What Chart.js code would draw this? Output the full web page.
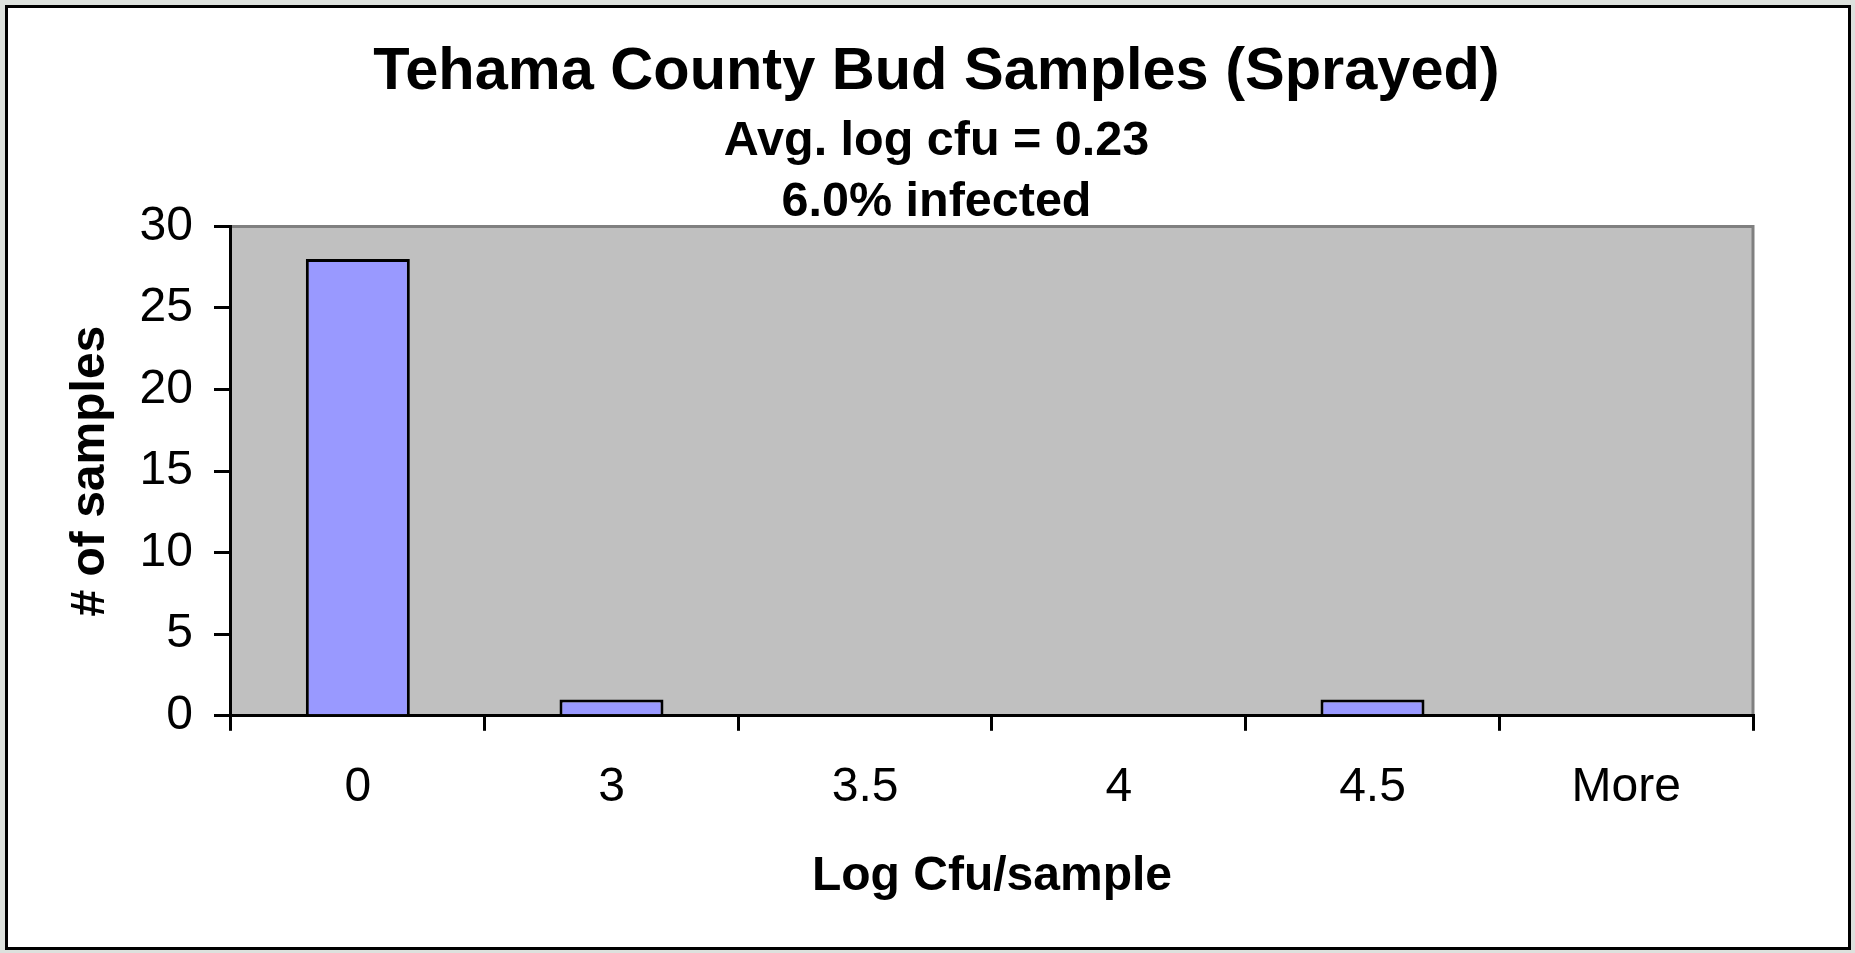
<!DOCTYPE html>
<html>
<head>
<meta charset="utf-8">
<title>Tehama County Bud Samples (Sprayed)</title>
<script src="https://cdn.jsdelivr.net/npm/chart.js@4"></script>
<style>
    html, body { margin: 0; padding: 0; background: #ffffff; }
    #chart { display: block; }
</style>
</head>
<body>
<canvas id="chart" width="1855" height="953"></canvas>
<script>
const categories = ['0', '3', '3.5', '4', '4.5', 'More'];
const sampleCounts = [28, 1, 0, 0, 1, 0];
const yTicks = [0, 5, 10, 15, 20, 25, 30];

const chartTitle = 'Tehama County Bud Samples (Sprayed)';
const subtitleLines = ['Avg. log cfu = 0.23', '6.0% infected'];

const FONT = "'Liberation Sans', Arial, sans-serif";

// grey plot area + the outer frame, drawn like the old spreadsheet chart
const framePlugin = {
    id: 'frame',
    afterLayout(chart) {
        // titles sit centred on the outer frame, not on the plot box
        chart.boxes.forEach(box => {
            if (!box.axis && box.options && box.options.text !== undefined) {
                box.right += 82;
            }
        });
    },
    beforeDraw(chart) {
        const ctx = chart.ctx;
        const area = chart.chartArea;
        ctx.save();
        ctx.fillStyle = '#dde1dd';
        ctx.fillRect(0, 0, chart.width, chart.height);
        ctx.fillStyle = '#ffffff';
        ctx.fillRect(5, 5, chart.width - 9, chart.height - 8);
        ctx.strokeStyle = '#000000';
        ctx.lineWidth = 3;
        ctx.strokeRect(6.5, 6.5, chart.width - 12, chart.height - 11);

        ctx.fillStyle = '#c0c0c0';
        ctx.fillRect(area.left, area.top, area.right - area.left, area.bottom - area.top);
        ctx.strokeStyle = '#808080';
        ctx.lineWidth = 3;
        ctx.beginPath();
        ctx.moveTo(area.left, area.top);
        ctx.lineTo(area.right, area.top);
        ctx.lineTo(area.right, area.bottom);
        ctx.stroke();
        ctx.restore();
    }
};

const ctx = document.getElementById('chart').getContext('2d');
const chart = new Chart(ctx, {
    type: 'bar',
    data: {
        labels: categories,
        datasets: [{
            label: '# of samples',
            data: sampleCounts,
            backgroundColor: '#9999ff',
            borderColor: '#000000',
            borderWidth: 3,
            borderSkipped: 'start',
            barPercentage: 0.41,
            categoryPercentage: 1.0
        }]
    },
    options: {
        responsive: false,
        devicePixelRatio: 1,
        animation: false,
        layout: {
            padding: { top: 37, right: 102, bottom: 47, left: 38 }
        },
        plugins: {
            legend: { display: false },
            tooltip: { enabled: false },
            title: {
                display: true,
                text: chartTitle,
                color: '#000000',
                font: { family: FONT, size: 59.5, weight: 'bold', lineHeight: 1.2 },
                padding: { top: 0, bottom: 0 }
            },
            subtitle: {
                display: true,
                text: subtitleLines,
                color: '#000000',
                font: { family: FONT, size: 48.5, weight: 'bold', lineHeight: '61px' },
                padding: { top: 3, bottom: -7 }
            }
        },
        scales: {
            x: {
                offset: true,
                grid: {
                    offset: true,
                    drawOnChartArea: false,
                    drawTicks: true,
                    tickLength: 15,
                    color: '#000000',
                    lineWidth: 3
                },
                border: { display: true, color: '#000000', width: 3 },
                ticks: {
                    color: '#000000',
                    padding: 28,
                    maxRotation: 0,
                    font: { family: FONT, size: 48 }
                },
                title: {
                    display: true,
                    text: 'Log Cfu/sample',
                    color: '#000000',
                    font: { family: FONT, size: 48, weight: 'bold', lineHeight: 1.2 },
                    padding: { top: 4, bottom: 0 }
                }
            },
            y: {
                min: 0,
                max: 30,
                afterBuildTicks(scale) {
                    scale.ticks = yTicks.map(v => ({ value: v }));
                },
                grid: {
                    drawOnChartArea: false,
                    drawTicks: true,
                    tickLength: 17,
                    color: '#000000',
                    lineWidth: 3
                },
                border: { display: true, color: '#000000', width: 3 },
                ticks: {
                    color: '#000000',
                    padding: 21,
                    font: { family: FONT, size: 48 }
                },
                title: {
                    display: true,
                    text: '# of samples',
                    color: '#000000',
                    font: { family: FONT, size: 48, weight: 'bold', lineHeight: 1.2 },
                    padding: { top: 24, bottom: -1 }
                }
            }
        }
    },
    plugins: [framePlugin]
});
</script>
</body>
</html>
